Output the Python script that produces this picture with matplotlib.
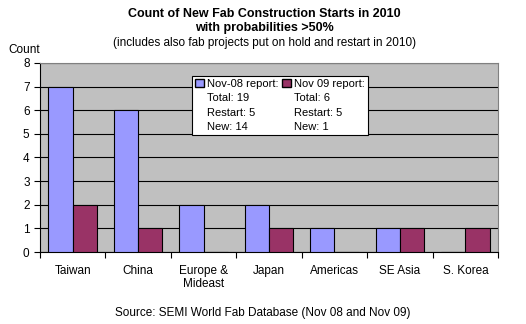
import numpy as np
import matplotlib.pyplot as plt
from matplotlib.patches import Patch

plt.rcParams['font.family'] = ['Liberation Sans', 'DejaVu Sans']

regions = ['Taiwan', 'China', 'Europe &\nMideast', 'Japan', 'Americas', 'SE Asia', 'S. Korea']
nov08 = [7, 6, 2, 2, 1, 1, 0]
nov09 = [2, 1, 0, 1, 0, 1, 1]
nov08_info = ['Total: 19', 'Restart: 5', 'New: 14']
nov09_info = ['Total: 6', 'Restart: 5', 'New: 1']

fig = plt.figure(figsize=(5.26, 3.24), dpi=100)
ax = fig.add_axes([0.076, 0.222, 0.871, 0.584])
ax.set_facecolor('#C0C0C0')

x = np.arange(len(regions))
w = 0.37
ax.bar(x - w / 2, nov08, w, color='#9999FF', edgecolor='#000000', linewidth=0.8, zorder=3)
ax.bar(x + w / 2, nov09, w, color='#993366', edgecolor='#000000', linewidth=0.8, zorder=3)

ax.set_xlim(-0.5, len(regions) - 0.5)
ax.set_ylim(0, 8)
ax.set_yticks(range(9))
ax.yaxis.grid(True, color='#000000', linewidth=0.8, zorder=1)
ax.set_axisbelow(True)

# category labels between the outward ticks at the boundaries
ax.set_xticks(np.arange(len(regions) + 1) - 0.5)
ax.set_xticklabels([])
ax.set_xticks(x, minor=True)
ax.set_xticklabels(regions, minor=True, fontsize=8.5)
ax.tick_params(axis='x', which='minor', length=0, pad=9)
ax.tick_params(axis='x', which='major', direction='out', length=4)
ax.tick_params(axis='y', direction='out', length=4, labelsize=8.5)

for s in ['top', 'right']:
    ax.spines[s].set_color('#808080')
    ax.spines[s].set_linewidth(0.8)
ax.spines['left'].set_color('#000000')
ax.spines['bottom'].set_color('#000000')

blank = Patch(visible=False)
handles = [Patch(facecolor='#9999FF', edgecolor='#000000')] + [blank] * 3 \
    + [Patch(facecolor='#993366', edgecolor='#000000')] + [blank] * 3
labels = ['Nov-08 report:'] + nov08_info + ['Nov 09 report:'] + nov09_info
leg = ax.legend(handles, labels, ncol=2, loc='upper left', bbox_to_anchor=(0.332, 0.93),
                fontsize=8, frameon=True, fancybox=False, framealpha=1,
                handlelength=0.8, handleheight=0.8,
                handletextpad=0.3, columnspacing=0.3, labelspacing=0.38, borderpad=0.25,
                borderaxespad=0)
leg.get_frame().set_edgecolor('#000000')
leg.get_frame().set_linewidth(0.8)
leg.set_zorder(5)

fig.text(0.503, 0.958, 'Count of New Fab Construction Starts in 2010', ha='center', va='center',
         fontsize=9, fontweight='bold')
fig.text(0.503, 0.915, 'with probabilities >50%', ha='center', va='center',
         fontsize=9, fontweight='bold')
fig.text(0.503, 0.868, '(includes also fab projects put on hold and restart in 2010)',
         ha='center', va='center', fontsize=8.5)
fig.text(0.015, 0.845, 'Count', ha='left', va='center', fontsize=8.5)
fig.text(0.5, 0.035, 'Source: SEMI World Fab Database (Nov 08 and Nov 09)', ha='center',
         va='center', fontsize=8.5)

fig.savefig('out.png', dpi=100)
